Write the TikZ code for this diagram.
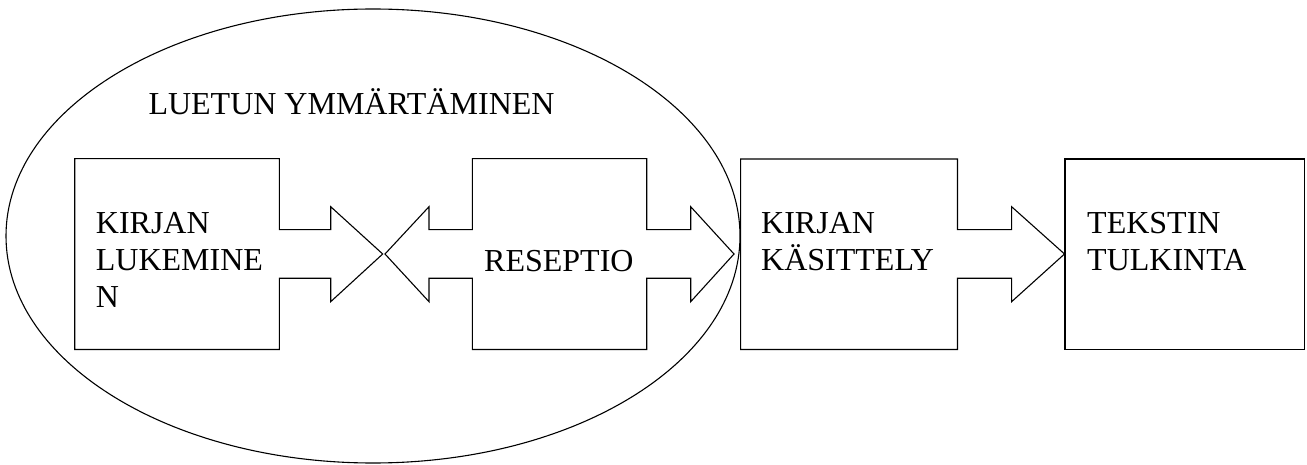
\documentclass[tikz,border=0pt]{standalone}
\usepackage{fontspec}
\setmainfont{Liberation Serif}
\begin{document}
\begin{tikzpicture}[x=1pt,y=-1pt,
  shape line/.style={draw=black,line width=1.1pt,line join=miter},
  lbl/.style={anchor=base west,inner sep=0pt,font=\fontsize{32}{37}\selectfont}]
\useasboundingbox (0,0) rectangle (1307,465);
% group ellipse
\draw[shape line] (373,236) ellipse [x radius=367, y radius=227];
% box 1 with right arrow
\draw[shape line] (74.7,158.7) -- (279.3,158.7) -- (279.3,229.7) -- (330.7,229.7) -- (330.7,206.7)
  -- (382.7,254) -- (330.7,301.7) -- (330.7,278.3) -- (279.3,278.3) -- (279.3,349.5) -- (74.7,349.5) -- cycle;
% box 2 with left-right arrow
\draw[shape line] (472.3,158.7) -- (646.7,158.7) -- (646.7,229.7) -- (690.7,229.7) -- (690.7,206.7)
  -- (734,254) -- (690.7,301.7) -- (690.7,278.3) -- (646.7,278.3) -- (646.7,349.5) -- (472.3,349.5)
  -- (472.3,278.3) -- (429,278.3) -- (429,301.7) -- (385,254) -- (429,206.7) -- (429,229.7) -- (472.3,229.7) -- cycle;
% box 3 with right arrow
\draw[shape line] (740.6,159) -- (957.5,159) -- (957.5,229.7) -- (1011.6,229.7) -- (1011.6,206.7)
  -- (1064.5,254) -- (1011.6,301.7) -- (1011.6,278.3) -- (957.5,278.3) -- (957.5,349.5) -- (740.6,349.5) -- cycle;
% box 4
\draw[shape line] (1065,159) rectangle (1304.5,349.5);
% texts
\node[lbl] (title) at (148.3,114.3) {LUETUN YMMÄRTÄMINEN};
\node[lbl] (a1) at (95.7,234) {KIRJAN};
\node[lbl] (a2) at (95.7,271) {LUKEMINE};
\node[lbl] (a3) at (95.7,308) {N};
\node[lbl] (b1) at (484,271.5) {RESEPTIO};
\node[lbl] (c1) at (761,234) {KIRJAN};
\node[lbl] (c2) at (761,271) {KÄSITTELY};
\node[lbl] (d1) at (1087,234) {TEKSTIN};
\node[lbl] (d2) at (1087,271) {TULKINTA};
\end{tikzpicture}
\end{document}
